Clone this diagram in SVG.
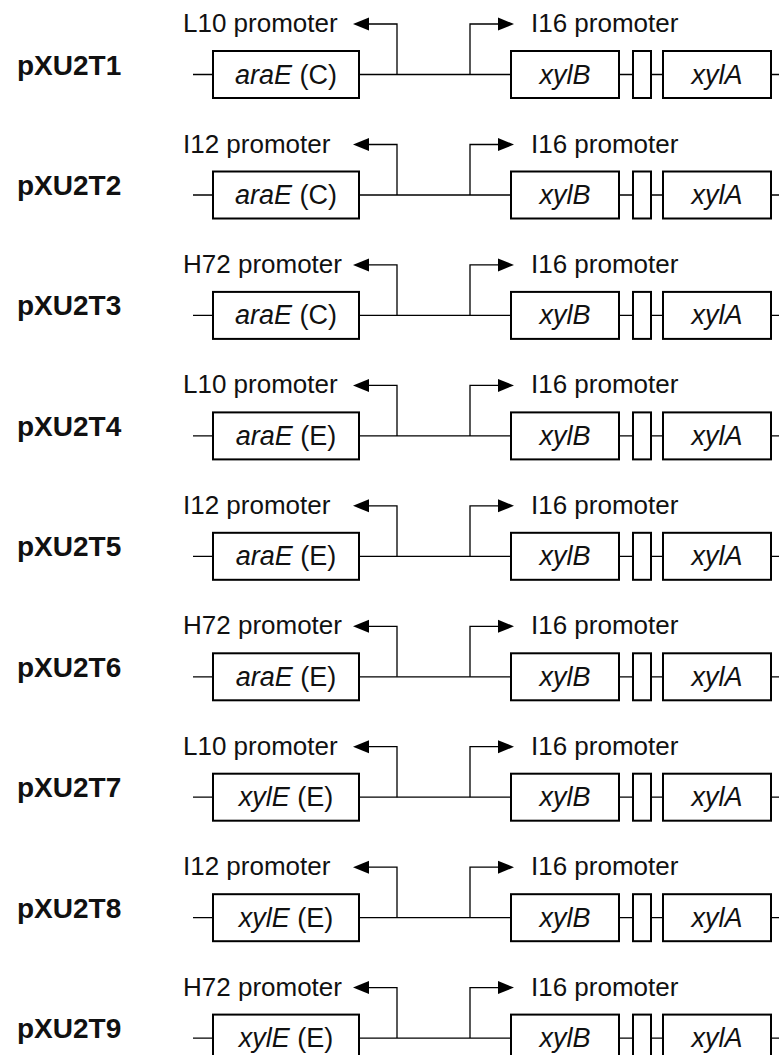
<svg xmlns="http://www.w3.org/2000/svg" width="779" height="1055" viewBox="0 0 779 1055">
<style>
.bb{stroke:#000;stroke-width:1.3;fill:none}
.pr{stroke:#000;stroke-width:1.3;fill:none}
.ah{fill:#000;stroke:none}
.box{stroke:#000;stroke-width:2;fill:#fff}
.t{font-family:"Liberation Sans",Arial,sans-serif;font-size:26px;fill:#111}
.lbl{font-family:"Liberation Sans",Arial,sans-serif;font-size:28px;font-weight:bold;fill:#111}
.g{font-family:"Liberation Sans",Arial,sans-serif;font-size:27px;fill:#111;text-anchor:middle}
.i{font-style:italic}
</style>
<rect width="779" height="1055" fill="#fff"/>
<g id="connectors">
<g transform="translate(0,74.5)"><path class="bb" d="M193,0H779"/><path class="pr" d="M397,0V-50.5H362"/><path class="ah" d="M353,-50.5L369,-57L369,-44Z"/><path class="pr" d="M470,0V-50.5H505"/><path class="ah" d="M514,-50.5L498,-57L498,-44Z"/></g>
<g transform="translate(0,195)"><path class="bb" d="M193,0H779"/><path class="pr" d="M397,0V-50.5H362"/><path class="ah" d="M353,-50.5L369,-57L369,-44Z"/><path class="pr" d="M470,0V-50.5H505"/><path class="ah" d="M514,-50.5L498,-57L498,-44Z"/></g>
<g transform="translate(0,315.4)"><path class="bb" d="M193,0H779"/><path class="pr" d="M397,0V-50.5H362"/><path class="ah" d="M353,-50.5L369,-57L369,-44Z"/><path class="pr" d="M470,0V-50.5H505"/><path class="ah" d="M514,-50.5L498,-57L498,-44Z"/></g>
<g transform="translate(0,435.9)"><path class="bb" d="M193,0H779"/><path class="pr" d="M397,0V-50.5H362"/><path class="ah" d="M353,-50.5L369,-57L369,-44Z"/><path class="pr" d="M470,0V-50.5H505"/><path class="ah" d="M514,-50.5L498,-57L498,-44Z"/></g>
<g transform="translate(0,556.3)"><path class="bb" d="M193,0H779"/><path class="pr" d="M397,0V-50.5H362"/><path class="ah" d="M353,-50.5L369,-57L369,-44Z"/><path class="pr" d="M470,0V-50.5H505"/><path class="ah" d="M514,-50.5L498,-57L498,-44Z"/></g>
<g transform="translate(0,676.8)"><path class="bb" d="M193,0H779"/><path class="pr" d="M397,0V-50.5H362"/><path class="ah" d="M353,-50.5L369,-57L369,-44Z"/><path class="pr" d="M470,0V-50.5H505"/><path class="ah" d="M514,-50.5L498,-57L498,-44Z"/></g>
<g transform="translate(0,797.2)"><path class="bb" d="M193,0H779"/><path class="pr" d="M397,0V-50.5H362"/><path class="ah" d="M353,-50.5L369,-57L369,-44Z"/><path class="pr" d="M470,0V-50.5H505"/><path class="ah" d="M514,-50.5L498,-57L498,-44Z"/></g>
<g transform="translate(0,917.7)"><path class="bb" d="M193,0H779"/><path class="pr" d="M397,0V-50.5H362"/><path class="ah" d="M353,-50.5L369,-57L369,-44Z"/><path class="pr" d="M470,0V-50.5H505"/><path class="ah" d="M514,-50.5L498,-57L498,-44Z"/></g>
<g transform="translate(0,1038.1)"><path class="bb" d="M193,0H779"/><path class="pr" d="M397,0V-50.5H362"/><path class="ah" d="M353,-50.5L369,-57L369,-44Z"/><path class="pr" d="M470,0V-50.5H505"/><path class="ah" d="M514,-50.5L498,-57L498,-44Z"/></g>
</g>

<g id="pXU2T1" transform="translate(0,74.5)">
<text class="lbl" x="17" y="0">pXU2T1</text>
<text class="t" x="183" y="-42.5">L10 promoter</text>
<text class="t" x="531" y="-42.5">I16 promoter</text>
<rect class="box" x="213" y="-23.5" width="146" height="47"/>
<text class="g" x="286" y="9"><tspan class="i">araE</tspan> (C)</text>
<rect class="box" x="511" y="-23.5" width="108" height="47"/>
<text class="g i" x="565" y="9">xylB</text>
<rect class="box" x="633" y="-23.5" width="18" height="47"/>
<rect class="box" x="663" y="-23.5" width="108" height="47"/>
<text class="g i" x="717" y="9">xylA</text>
</g>
<g id="pXU2T2" transform="translate(0,195)">
<text class="lbl" x="17" y="0">pXU2T2</text>
<text class="t" x="183" y="-42.5">I12 promoter</text>
<text class="t" x="531" y="-42.5">I16 promoter</text>
<rect class="box" x="213" y="-23.5" width="146" height="47"/>
<text class="g" x="286" y="9"><tspan class="i">araE</tspan> (C)</text>
<rect class="box" x="511" y="-23.5" width="108" height="47"/>
<text class="g i" x="565" y="9">xylB</text>
<rect class="box" x="633" y="-23.5" width="18" height="47"/>
<rect class="box" x="663" y="-23.5" width="108" height="47"/>
<text class="g i" x="717" y="9">xylA</text>
</g>
<g id="pXU2T3" transform="translate(0,315.4)">
<text class="lbl" x="17" y="0">pXU2T3</text>
<text class="t" x="183" y="-42.5">H72 promoter</text>
<text class="t" x="531" y="-42.5">I16 promoter</text>
<rect class="box" x="213" y="-23.5" width="146" height="47"/>
<text class="g" x="286" y="9"><tspan class="i">araE</tspan> (C)</text>
<rect class="box" x="511" y="-23.5" width="108" height="47"/>
<text class="g i" x="565" y="9">xylB</text>
<rect class="box" x="633" y="-23.5" width="18" height="47"/>
<rect class="box" x="663" y="-23.5" width="108" height="47"/>
<text class="g i" x="717" y="9">xylA</text>
</g>
<g id="pXU2T4" transform="translate(0,435.9)">
<text class="lbl" x="17" y="0">pXU2T4</text>
<text class="t" x="183" y="-42.5">L10 promoter</text>
<text class="t" x="531" y="-42.5">I16 promoter</text>
<rect class="box" x="213" y="-23.5" width="146" height="47"/>
<text class="g" x="286" y="9"><tspan class="i">araE</tspan> (E)</text>
<rect class="box" x="511" y="-23.5" width="108" height="47"/>
<text class="g i" x="565" y="9">xylB</text>
<rect class="box" x="633" y="-23.5" width="18" height="47"/>
<rect class="box" x="663" y="-23.5" width="108" height="47"/>
<text class="g i" x="717" y="9">xylA</text>
</g>
<g id="pXU2T5" transform="translate(0,556.3)">
<text class="lbl" x="17" y="0">pXU2T5</text>
<text class="t" x="183" y="-42.5">I12 promoter</text>
<text class="t" x="531" y="-42.5">I16 promoter</text>
<rect class="box" x="213" y="-23.5" width="146" height="47"/>
<text class="g" x="286" y="9"><tspan class="i">araE</tspan> (E)</text>
<rect class="box" x="511" y="-23.5" width="108" height="47"/>
<text class="g i" x="565" y="9">xylB</text>
<rect class="box" x="633" y="-23.5" width="18" height="47"/>
<rect class="box" x="663" y="-23.5" width="108" height="47"/>
<text class="g i" x="717" y="9">xylA</text>
</g>
<g id="pXU2T6" transform="translate(0,676.8)">
<text class="lbl" x="17" y="0">pXU2T6</text>
<text class="t" x="183" y="-42.5">H72 promoter</text>
<text class="t" x="531" y="-42.5">I16 promoter</text>
<rect class="box" x="213" y="-23.5" width="146" height="47"/>
<text class="g" x="286" y="9"><tspan class="i">araE</tspan> (E)</text>
<rect class="box" x="511" y="-23.5" width="108" height="47"/>
<text class="g i" x="565" y="9">xylB</text>
<rect class="box" x="633" y="-23.5" width="18" height="47"/>
<rect class="box" x="663" y="-23.5" width="108" height="47"/>
<text class="g i" x="717" y="9">xylA</text>
</g>
<g id="pXU2T7" transform="translate(0,797.2)">
<text class="lbl" x="17" y="0">pXU2T7</text>
<text class="t" x="183" y="-42.5">L10 promoter</text>
<text class="t" x="531" y="-42.5">I16 promoter</text>
<rect class="box" x="213" y="-23.5" width="146" height="47"/>
<text class="g" x="286" y="9"><tspan class="i">xylE</tspan> (E)</text>
<rect class="box" x="511" y="-23.5" width="108" height="47"/>
<text class="g i" x="565" y="9">xylB</text>
<rect class="box" x="633" y="-23.5" width="18" height="47"/>
<rect class="box" x="663" y="-23.5" width="108" height="47"/>
<text class="g i" x="717" y="9">xylA</text>
</g>
<g id="pXU2T8" transform="translate(0,917.7)">
<text class="lbl" x="17" y="0">pXU2T8</text>
<text class="t" x="183" y="-42.5">I12 promoter</text>
<text class="t" x="531" y="-42.5">I16 promoter</text>
<rect class="box" x="213" y="-23.5" width="146" height="47"/>
<text class="g" x="286" y="9"><tspan class="i">xylE</tspan> (E)</text>
<rect class="box" x="511" y="-23.5" width="108" height="47"/>
<text class="g i" x="565" y="9">xylB</text>
<rect class="box" x="633" y="-23.5" width="18" height="47"/>
<rect class="box" x="663" y="-23.5" width="108" height="47"/>
<text class="g i" x="717" y="9">xylA</text>
</g>
<g id="pXU2T9" transform="translate(0,1038.1)">
<text class="lbl" x="17" y="0">pXU2T9</text>
<text class="t" x="183" y="-42.5">H72 promoter</text>
<text class="t" x="531" y="-42.5">I16 promoter</text>
<rect class="box" x="213" y="-23.5" width="146" height="47"/>
<text class="g" x="286" y="9"><tspan class="i">xylE</tspan> (E)</text>
<rect class="box" x="511" y="-23.5" width="108" height="47"/>
<text class="g i" x="565" y="9">xylB</text>
<rect class="box" x="633" y="-23.5" width="18" height="47"/>
<rect class="box" x="663" y="-23.5" width="108" height="47"/>
<text class="g i" x="717" y="9">xylA</text>
</g>
</svg>
